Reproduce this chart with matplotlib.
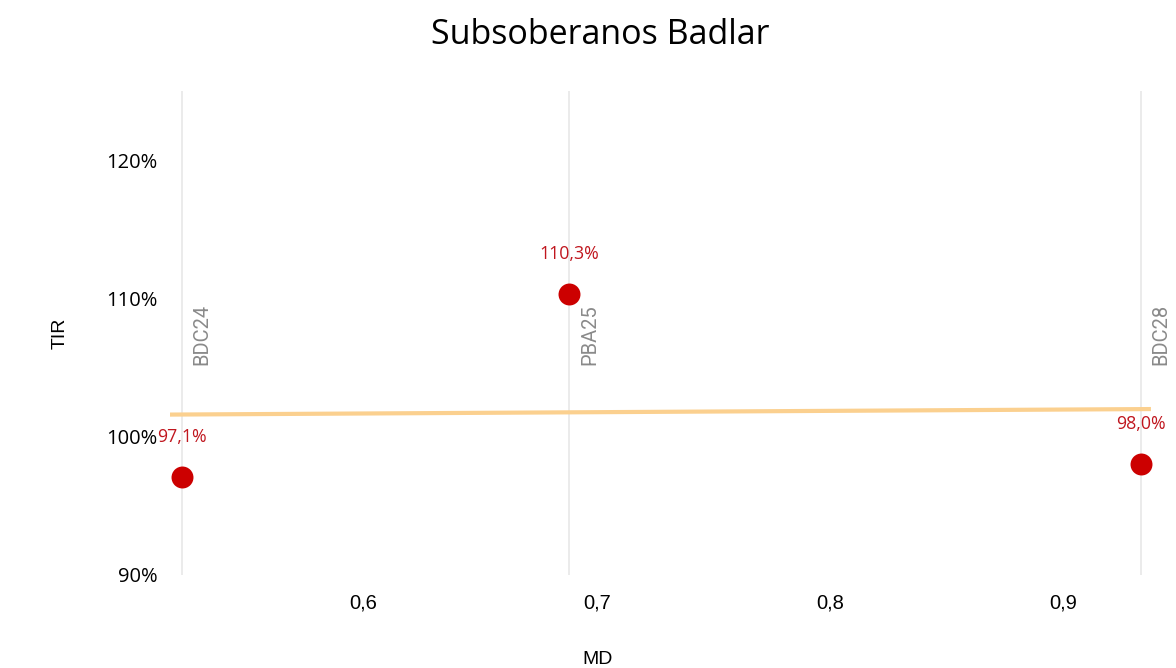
import matplotlib
matplotlib.use("Agg")
import matplotlib.pyplot as plt
from matplotlib.ticker import FuncFormatter

# datos
bonos = ["BDC24", "PBA25", "BDC28"]
md = [0.522, 0.688, 0.933]
tir = [97.1, 110.3, 98.0]
tir_labels = ["97,1%", "110,3%", "98,0%"]

# linea de tendencia
trend_md = [0.5166, 0.9374]
trend_tir = [101.6, 102.0]

x_ticks = [0.6, 0.7, 0.8, 0.9]
y_ticks = [90, 100, 110, 120]

fig = plt.figure(figsize=(11.76, 6.68), dpi=100)
ax = fig.add_axes([170 / 1176, 93 / 668, 987 / 1176, 484 / 668])

# lineas verticales por bono
for x in md:
    ax.plot([x, x], [90, 125], color="#e9e9e9", lw=1.3, zorder=1)

ax.plot(trend_md, trend_tir, color="#fbd08f", lw=3, solid_capstyle="butt", zorder=2)
ax.scatter(md, tir, s=250, color="#cc0000", zorder=3, linewidths=0)

for x, y, lab, name in zip(md, tir, tir_labels, bonos):
    ax.annotate(lab, (x, y), xytext=(0, 29), textcoords="offset points",
                ha="center", va="center", color="#c0161e", fontsize=12.8,
                family="Open Sans")
    ax.annotate(name, (x, 105.2), xytext=(8, 0), textcoords="offset points",
                ha="left", va="bottom", rotation=90, color="#8a8a8a",
                fontsize=14.5, family="Roboto")

ax.set_xlim(0.517, 0.94)
ax.set_ylim(90, 125)
ax.set_xticks(x_ticks)
ax.set_yticks(y_ticks)
ax.xaxis.set_major_formatter(FuncFormatter(lambda v, p: f"{v:.1f}".replace(".", ",")))
ax.yaxis.set_major_formatter(FuncFormatter(lambda v, p: f"{v:.0f}%"))
ax.tick_params(axis="x", length=0, pad=13, labelsize=14.5)
ax.tick_params(axis="y", length=0, pad=9, labelsize=14.5)
for t in ax.get_xticklabels():
    t.set_family("Liberation Sans")
for t in ax.get_yticklabels():
    t.set_family("Open Sans")
for s in ax.spines.values():
    s.set_visible(False)

ax.set_ylabel("TIR", family="Liberation Sans", fontsize=14, labelpad=27)
fig.text(598 / 1176, 1 - 660 / 668, "MD", ha="center", va="center",
         family="Liberation Sans", fontsize=14)
fig.text(600 / 1176, 1 - 35 / 668, "Subsoberanos Badlar", ha="center", va="center",
         family="Open Sans", fontsize=24.5)

fig.savefig("out.png", dpi=100)
